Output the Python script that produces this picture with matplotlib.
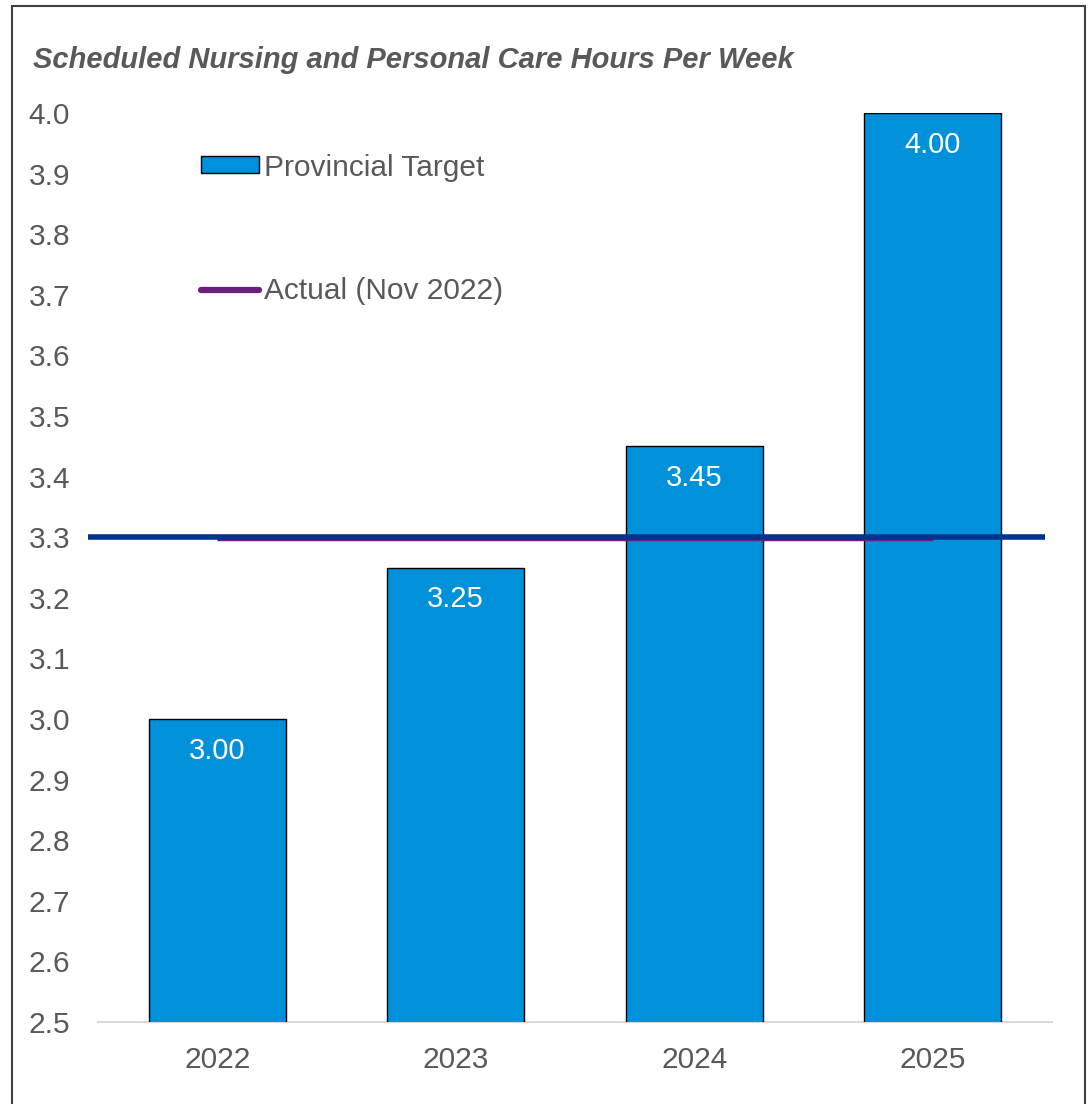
import matplotlib.pyplot as plt
import matplotlib.patches as mpatches
from matplotlib.lines import Line2D

years = ["2022", "2023", "2024", "2025"]
target = [3.00, 3.25, 3.45, 4.00]
actual = 3.297      # purple series, sits just under the navy reference line
reference = 3.30
yticks = [2.5, 2.6, 2.7, 2.8, 2.9, 3.0, 3.1, 3.2, 3.3, 3.4, 3.5, 3.6, 3.7, 3.8, 3.9, 4.0]

grey = "#595959"
blue = "#0091DA"
purple = "#6B1F7B"
navy = "#00338D"

plt.rcParams['font.family'] = ['Liberation Sans', 'DejaVu Sans']

fig = plt.figure(figsize=(10.88, 11.04), dpi=100)
ax = fig.add_axes([0.090, 0.0743, 0.877, 0.8233])

x = list(range(len(years)))
bars = ax.bar(x, target, width=0.575, color=blue, edgecolor="black", linewidth=1, zorder=2)

# actual line from first to last category centre
ax.plot([x[0], x[-1]], [actual, actual], color=purple, linewidth=2.5, zorder=3,
        solid_capstyle="butt")
# reference line across the whole plot
ax.plot([-0.542, 3.47], [reference, reference], color=navy, linewidth=4, zorder=4,
        solid_capstyle="butt", clip_on=False)

for b, v in zip(bars, target):
    ax.text(b.get_x() + b.get_width() / 2, v - 0.052, "{:.2f}".format(v),
            ha="center", va="center", color="white", fontsize=21, zorder=5)

ax.set_xlim(-0.5, 3.5)
ax.set_ylim(2.5, 4.0)
ax.set_xticks(x)
ax.set_xticklabels(years)
ax.set_yticks(yticks)
ax.set_yticklabels(["{:.1f}".format(t) for t in yticks])
ax.tick_params(axis="both", length=0, labelsize=21.5, colors=grey)
ax.tick_params(axis="y", pad=20)
ax.tick_params(axis="x", pad=17)

for s in ["top", "right", "left"]:
    ax.spines[s].set_visible(False)
ax.spines["bottom"].set_color("#D9D9D9")
ax.spines["bottom"].set_linewidth(1.5)
ax.spines["bottom"].set_zorder(1)

handles = [mpatches.Patch(facecolor=blue, edgecolor="black", linewidth=1),
           Line2D([0], [0], color=purple, linewidth=4.5, solid_capstyle="round")]
leg = ax.legend(handles, ["Provincial Target", "Actual (Nov 2022)"],
                loc="upper left", bbox_to_anchor=(0.08, 0.985), frameon=False,
                fontsize=21.5, labelcolor=grey, handlelength=1.95, handleheight=0.5,
                handletextpad=0.15, labelspacing=3.2)

fig.text(0.030, 0.946, "Scheduled Nursing and Personal Care Hours Per Week",
         fontsize=21, fontweight="bold", fontstyle="italic", color=grey,
         ha="left", va="center")

# outer frame of the chart area
frame = mpatches.Rectangle((0.011, -0.05), 0.986, 1.045, transform=fig.transFigure,
                           fill=False, edgecolor="#404040", linewidth=1.5)
fig.patches.append(frame)

fig.savefig("out.png", dpi=100)
